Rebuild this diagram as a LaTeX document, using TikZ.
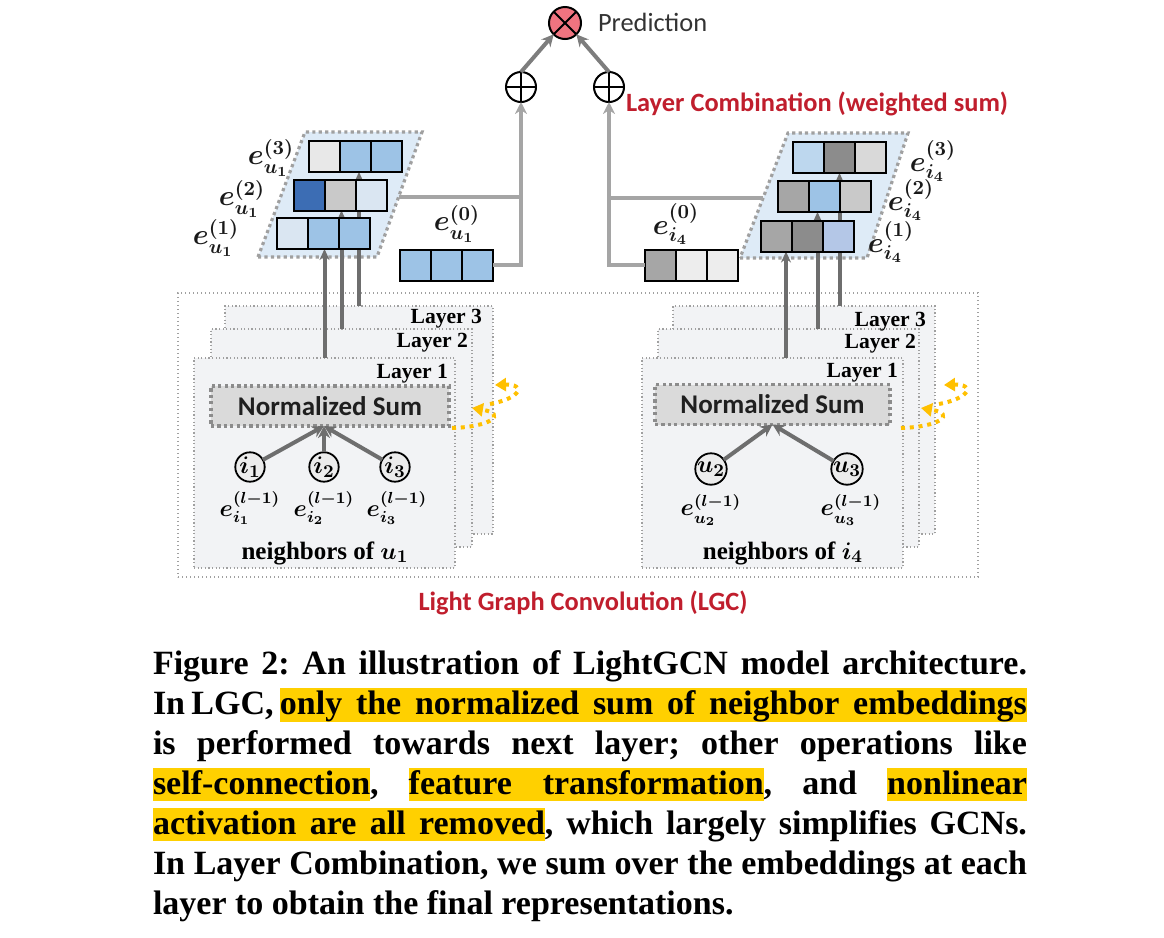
\documentclass[tikz,border=0pt]{standalone}
\usepackage{fontspec}
\setmainfont{Liberation Serif}
\newfontfamily\calibri{Carlito}
\usetikzlibrary{arrows.meta, positioning, calc}

\definecolor{lcred}{RGB}{192,30,45}
\definecolor{hlyellow}{RGB}{255,208,0}
\definecolor{loopyellow}{RGB}{255,192,0}
\definecolor{predpink}{RGB}{240,116,128}
\definecolor{framegray}{RGB}{160,160,160}
\definecolor{panelgray}{RGB}{242,243,245}
\definecolor{sumfill}{RGB}{218,218,218}
\definecolor{sumgray}{RGB}{140,140,140}
\definecolor{nodegray}{RGB}{236,236,236}
\definecolor{arrowgray}{RGB}{110,110,110}
\definecolor{combgray}{RGB}{165,165,165}
\definecolor{stackblue}{RGB}{222,235,247}
\definecolor{blueM}{RGB}{157,195,230}
\definecolor{blueL}{RGB}{218,230,242}
\definecolor{blueD}{RGB}{60,109,180}
\definecolor{blueS}{RGB}{189,215,238}
\definecolor{blueP}{RGB}{180,199,231}
\definecolor{greyA}{RGB}{232,232,232}
\definecolor{greyB}{RGB}{201,201,201}
\definecolor{greyC}{RGB}{166,166,166}
\definecolor{greyD}{RGB}{140,140,140}
\definecolor{greyE}{RGB}{217,217,217}
\definecolor{greyF}{RGB}{237,237,237}

% one embedding vector: name, centre of first cell, three colours
\newcommand{\embrow}[5]{%
  \node[cell, fill=#3] (#1a) at (#2) {};
  \node[cell, fill=#4, right=0pt of #1a] (#1b) {};
  \node[cell, fill=#5, right=0pt of #1b] (#1c) {};
}
\newcommand{\hl}[1]{{\setlength{\fboxsep}{0pt}\colorbox{hlyellow}{\rule[-3.5pt]{0pt}{16.5pt}#1}}}
\newcommand{\hlw}[2]{{\setlength{\fboxsep}{0pt}\colorbox{hlyellow}{\rule[-3.5pt]{0pt}{16.5pt}\makebox[#1][s]{#2}}}}

\begin{document}
\frenchspacing
\begin{tikzpicture}[
    x=0.5pt, y=-0.5pt,
    every node/.style={inner sep=0pt, outer sep=0pt},
    cell/.style={draw=black, line width=1pt, minimum width=15.5pt, minimum height=15.5pt},
    stackframe/.style={draw=framegray, fill=stackblue, line width=1.6pt, dash pattern=on 1.6pt off 1.6pt},
    elabel/.style={font=\fontsize{14}{16}\selectfont\boldmath, text=black!90},
    lgcbox/.style={draw=framegray, line width=0.7pt, dash pattern=on 0.7pt off 1.3pt, minimum width=400pt, minimum height=142pt},
    layerbox/.style={draw=framegray, fill=panelgray, line width=0.6pt, dash pattern=on 0.6pt off 1.2pt, minimum width=130.5pt},
    layerlabel/.style={anchor=base east, font=\fontsize{10.8}{12}\selectfont\bfseries},
    sumbox/.style={draw=sumgray, fill=sumfill, line width=1.6pt, dash pattern=on 1.6pt off 1.6pt,
        minimum height=20pt, font=\calibri\bfseries\fontsize{13.5}{15}\selectfont, text=black!88},
    nbr/.style={circle, draw=black, fill=nodegray, line width=0.9pt, minimum size=14.5pt,
        font=\fontsize{13}{15}\selectfont\boldmath},
    nlabel/.style={font=\fontsize{11.5}{13}\selectfont\boldmath},
    nbrtext/.style={font=\fontsize{12.5}{14}\selectfont\bfseries\boldmath},
    uparrow/.style={draw=arrowgray, line width=2pt, -{Stealth[length=5.5pt, width=5pt]}},
    nbrarrow/.style={draw=arrowgray, line width=2pt, -{Stealth[length=6pt, width=6pt]}},
    combline/.style={draw=combgray, line width=2pt},
    predline/.style={draw=arrowgray!90, line width=2pt, -{Stealth[length=6pt, width=6pt]}},
    loopline/.style={draw=loopyellow, line width=2pt, dash pattern=on 2pt off 2.4pt, -{Triangle[length=5.5pt, width=6.5pt]}},
    opcircle/.style={circle, draw=black, line width=1pt, minimum size=15pt, fill=white},
    redtitle/.style={font=\calibri\bfseries\fontsize{13.2}{15}\selectfont, text=lcred},
    capline/.style={anchor=base west, font=\fontsize{17}{20}\selectfont\bfseries}
]
\useasboundingbox (0,0) rectangle (1164,938);

% Layer combination and prediction
\node[opcircle, fill=predpink, minimum size=16pt] (pred) at (565,23) {};
\draw[line width=1pt] (pred.45) -- (pred.225) (pred.135) -- (pred.315);
\node[anchor=west, font=\calibri\fontsize{13.2}{15}\selectfont, text=black!80] (predtext) at (598,22) {Prediction};

\node[opcircle] (plusL) at (521,87) {};
\node[opcircle] (plusR) at (609,87) {};
\draw[line width=1pt] (plusL.north) -- (plusL.south) (plusL.west) -- (plusL.east);
\draw[line width=1pt] (plusR.north) -- (plusR.south) (plusR.west) -- (plusR.east);
\node[redtitle, anchor=west] (combtitle) at (626,104) {Layer Combination (weighted sum)};

\draw[predline] (plusL.north) -- (pred.south west);
\draw[predline] (plusR.north) -- (pred.south east);

% LGC frame and layers
\node[lgcbox] (lgc) at (578,435) {};
\node[redtitle] (lgctitle) at (583,603) {Light Graph Convolution (LGC)};

\node[layerbox, minimum width=134pt, minimum height=114pt] (layer3L) at (359,420) {};
\node[layerbox, minimum height=109pt] (layer2L) at (341.5,438) {};
\node[layerbox, minimum height=105pt] (layer1L) at (324.5,463) {};
\node[layerbox, minimum width=131pt, minimum height=114pt] (layer3R) at (804,420) {};
\node[layerbox, minimum height=109pt] (layer2R) at (788.5,438) {};
\node[layerbox, minimum height=105pt] (layer1R) at (772.5,463) {};

\node[layerlabel] at (482,323) {Layer 3};
\node[layerlabel] at (468,347) {Layer 2};
\node[layerlabel] at (448,378) {Layer 1};
\node[layerlabel] at (926,326) {Layer 3};
\node[layerlabel] at (916,348) {Layer 2};
\node[layerlabel] at (898,377) {Layer 1};

\node[sumbox, minimum width=119pt] (sumL) at (330,406) {Normalized Sum};
\node[sumbox, minimum width=117.5pt] (sumR) at (772.5,404.5) {Normalized Sum};

% neighbours
\node[nbr] (i1) at (250,467) {$i_1$};
\node[nbr] (i2) at (324,467) {$i_2$};
\node[nbr] (i3) at (395,467) {$i_3$};
\node[nbr] (u2) at (711,469) {$u_2$};
\node[nbr] (u3) at (847,469) {$u_3$};

\coordinate (nsL) at (i2 |- sumL.south);
\draw[nbrarrow] (i1) -- (nsL);
\draw[nbrarrow] (i2) -- (nsL);
\draw[nbrarrow] (i3) -- (nsL);
\draw[nbrarrow] (u2) -- (sumR.south);
\draw[nbrarrow] (u3) -- (sumR.south);

\node[nlabel] at (250,508) {$e^{(l-1)}_{i_1}$};
\node[nlabel] at (324,508) {$e^{(l-1)}_{i_2}$};
\node[nlabel] at (397,508) {$e^{(l-1)}_{i_3}$};
\node[nlabel] at (711,510) {$e^{(l-1)}_{u_2}$};
\node[nlabel] at (851,510) {$e^{(l-1)}_{u_3}$};

\node[nbrtext] at (325,553) {neighbors of $u_1$};
\node[nbrtext] at (783,553) {neighbors of $i_4$};

% self loops
\foreach \dx in {0,449} {
  \draw[loopline] (452+\dx,428) .. controls (490+\dx,427) and (508+\dx,414) .. (472+\dx,408);
  \draw[loopline] (490+\dx,404) .. controls (522+\dx,398) and (526+\dx,384) .. (495+\dx,385);
}

% embedding stacks
\coordinate (pu1) at (258,257);
\coordinate (pu2) at (377,257);
\coordinate (pu3) at (422,132);
\coordinate (pu4) at (305,132);
\draw[stackframe] (pu1) -- (pu2) -- (pu3) -- (pu4) -- cycle;
\coordinate (stackUr) at ($(pu2)!0.48!(pu3)$);

\coordinate (pi1) at (740,258);
\coordinate (pi2) at (867,258);
\coordinate (pi3) at (908,133);
\coordinate (pi4) at (788,133);
\draw[stackframe] (pi1) -- (pi2) -- (pi3) -- (pi4) -- cycle;
\coordinate (stackIl) at ($(pi1)!0.48!(pi4)$);

\embrow{ur3}{324.5,156.5}{greyA}{blueM}{blueM}
\embrow{ur2}{309.5,195}{blueD}{greyB}{blueL}
\embrow{ur1}{292.5,233.5}{blueL}{blueM}{blueM}
\embrow{ir3}{808.5,157.5}{blueS}{greyD}{greyE}
\embrow{ir2}{793.5,196.5}{greyC}{blueM}{greyB}
\embrow{ir1}{776.5,236}{greyC}{greyD}{blueP}

% layer outputs up to the stacks
\draw[uparrow] (layer1L.north) -- (layer1L.north |- ur1b.south);
\draw[uparrow] (layer2L.north) -- (layer2L.north |- ur2b.south);
\draw[uparrow] (layer3L.north) -- (layer3L.north |- ur3b.south);
\draw[uparrow] ([xshift=-3pt]ir1a.south east |- layer1R.north) -- ([xshift=-3pt]ir1a.south east);
\draw[uparrow] ([xshift=-3.5pt]ir2b.south |- layer2R.north) -- ([xshift=-3.5pt]ir2b.south);
\draw[uparrow] (ir3b.south |- layer3R.north) -- (ir3b.south);

% redraw rows over the arrows
\embrow{ur3}{324.5,156.5}{greyA}{blueM}{blueM}
\embrow{ur2}{309.5,195}{blueD}{greyB}{blueL}
\embrow{ur1}{292.5,233.5}{blueL}{blueM}{blueM}
\embrow{ir3}{808.5,157.5}{blueS}{greyD}{greyE}
\embrow{ir2}{793.5,196.5}{greyC}{blueM}{greyB}
\embrow{ir1}{776.5,236}{greyC}{greyD}{blueP}

\embrow{u0}{415.5,265}{blueM}{blueM}{blueM}
\embrow{i0}{660.5,265}{greyC}{greyF}{greyF}

\node[elabel] at (271,158) {$e_{u_1}^{(3)}$};
\node[elabel] at (242,199) {$e_{u_1}^{(2)}$};
\node[elabel] at (216,238) {$e_{u_1}^{(1)}$};
\node[elabel] at (457,224) {$e_{u_1}^{(0)}$};
\node[elabel] at (933,161) {$e_{i_4}^{(3)}$};
\node[elabel] at (911,200) {$e_{i_4}^{(2)}$};
\node[elabel] at (891,242) {$e_{i_4}^{(1)}$};
\node[elabel] at (676,224) {$e_{i_4}^{(0)}$};

% connectors to the sums
\draw[combline, -{Stealth[length=6pt, width=6pt]}] (u0c.east) -| (plusL.south);
\draw[combline] (stackUr) -- (stackUr -| plusL);
\draw[combline, -{Stealth[length=6pt, width=6pt]}] (i0a.west) -| (plusR.south);
\draw[combline] (stackIl) -- (stackIl -| plusR);

% caption
\node[capline] (cap1) at (153,674) {\makebox[437pt][s]{Figure 2: An illustration of LightGCN model architecture.}};
\node[capline] (cap2) at (153,714) {\makebox[437pt][s]{In LGC, \hlw{373.5pt}{only the normalized sum of neighbor embeddings}}};
\node[capline] (cap3) at (153,754) {\makebox[437pt][s]{is performed towards next layer; other operations like}};
\node[capline] (cap4) at (153,794) {\makebox[437pt][s]{\hl{self-connection}, \hlw{177.5pt}{feature transformation}, and \hl{nonlinear}}};
\node[capline] (cap5) at (153,834) {\makebox[437pt][s]{\hlw{196pt}{activation are all removed}, which largely simplifies GCNs.}};
\node[capline] (cap6) at (153,874) {\makebox[437pt][s]{In Layer Combination, we sum over the embeddings at each}};
\node[capline] (cap7) at (153,914) {layer to obtain the final representations.};

\end{tikzpicture}
\end{document}
